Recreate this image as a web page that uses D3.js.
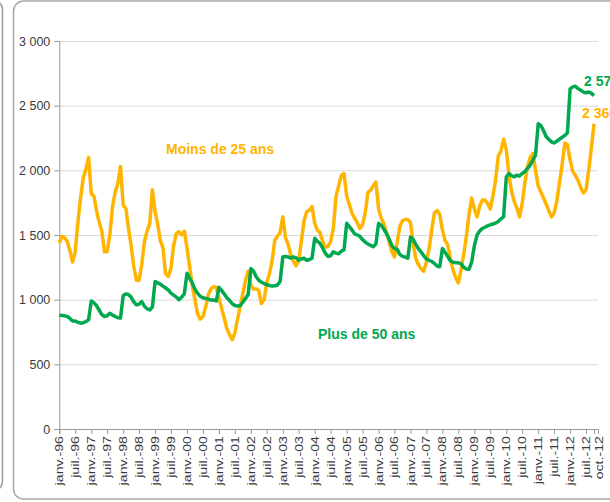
<!DOCTYPE html>
<html>
<head>
<meta charset="utf-8">
<script src="https://cdn.jsdelivr.net/npm/d3@7"></script>
<style>
  html, body { margin: 0; padding: 0; background: #fff; overflow: hidden; }
  svg { display: block; font-family: "Liberation Sans", Arial, sans-serif; }
</style>
</head>
<body>
<div id="chart"></div>
<script>
// monthly values, janv.-96 -> oct.-12
const moins25 = [
  1440,1490,1480,1450,1380,1290,1370,1600,1790,1940,2010,2100,
  1820,1800,1690,1600,1530,1370,1370,1500,1720,1830,1900,2030,
  1730,1705,1560,1420,1260,1150,1150,1270,1450,1530,1590,1850,
  1680,1580,1460,1400,1200,1180,1240,1420,1510,1525,1500,1530,
  1400,1250,1110,1000,890,850,870,940,1040,1085,1100,1095,
  1010,930,860,775,730,690,740,850,950,1050,1150,1220,
  1110,1080,1085,1070,970,1000,1130,1200,1300,1460,1490,1520,
  1640,1480,1430,1350,1300,1260,1300,1450,1610,1680,1690,1720,
  1590,1535,1520,1450,1405,1410,1450,1550,1800,1880,1960,1975,
  1800,1735,1670,1630,1595,1550,1580,1670,1830,1845,1880,1910,
  1700,1630,1590,1520,1450,1370,1330,1440,1565,1610,1620,1620,
  1595,1430,1320,1270,1240,1220,1290,1390,1540,1670,1690,1660,
  1540,1455,1425,1320,1230,1170,1130,1230,1350,1490,1660,1785,
  1700,1640,1720,1770,1770,1745,1700,1800,1930,2110,2150,2240,
  2160,1960,1840,1760,1710,1640,1740,1900,2030,2100,2130,2000,
  1880,1830,1790,1740,1690,1640,1665,1760,1900,2040,2210,2200,
  2080,1990,1960,1920,1870,1825,1850,2000,2180,2360
];

const plus50 = [
  880,878,875,870,855,835,835,825,818,822,830,845,
  990,975,955,920,885,870,875,895,880,870,860,858,
  1030,1045,1040,1020,985,960,965,985,950,930,920,945,
  1140,1130,1120,1105,1090,1075,1050,1035,1020,1000,1020,1045,
  1205,1165,1130,1080,1050,1025,1015,1010,1005,997,997,990,
  1095,1070,1045,1015,995,970,955,950,955,980,1010,1040,
  1240,1220,1180,1150,1135,1125,1115,1110,1105,1108,1113,1140,
  1330,1335,1330,1322,1330,1325,1305,1315,1320,1305,1310,1320,
  1475,1450,1435,1400,1360,1335,1340,1370,1360,1355,1375,1385,
  1590,1565,1540,1510,1500,1490,1465,1445,1430,1420,1410,1430,
  1590,1575,1545,1510,1470,1420,1395,1390,1350,1335,1330,1320,
  1485,1465,1430,1395,1370,1340,1315,1305,1295,1280,1260,1255,
  1395,1365,1335,1300,1290,1285,1285,1278,1250,1238,1236,1290,
  1420,1500,1530,1550,1560,1570,1578,1585,1592,1605,1625,1640,
  1950,1975,1960,1950,1962,1956,1975,1990,2015,2040,2080,2115,
  2360,2345,2310,2262,2240,2220,2212,2225,2240,2255,2270,2290,
  2630,2645,2650,2632,2620,2605,2600,2606,2595,2578
];

const seriesNames = ["Moins de 25 ans", "Plus de 50 ans"];
const yTicks = [0, 500, 1000, 1500, 2000, 2500, 3000];
const xTickLabels = [
  "janv.-96","juil.-96","janv.-97","juil.-97","janv.-98","juil.-98",
  "janv.-99","juil.-99","janv.-00","juil.-00","janv.-01","juil.-01",
  "janv.-02","juil.-02","janv.-03","juil.-03","janv.-04","juil.-04",
  "janv.-05","juil.-05","janv.-06","juil.-06","janv.-07","juil.-07",
  "janv.-08","juil.-08","janv.-09","juil.-09","janv.-10","juil.-10",
  "janv.-11","juil.-11","janv.-12","juil.-12","oct.-12"
];

const orange = "#FFB400";
const green = "#00A84F";

const width = 610, height = 502;
const start = new Date(1996, 0, 1);
const months = moins25.map((d, i) => d3.timeMonth.offset(start, i));
// tick dates: every 6 months, then the last month
const tickDates = xTickLabels.map((d, i) =>
  i < xTickLabels.length - 1 ? d3.timeMonth.offset(start, i * 6) : months[months.length - 1]);

const fr = d3.formatLocale({ decimal: ",", thousands: " ", grouping: [3], currency: ["", " €"] });
const fmt = fr.format(",d");

const svg = d3.select("#chart").append("svg")
  .attr("width", width)
  .attr("height", height);

// frames
svg.append("rect")
  .attr("x", -300).attr("y", 0.5)
  .attr("width", 302.5).attr("height", 490)
  .attr("rx", 9)
  .attr("fill", "none").attr("stroke", "#9a9a9a").attr("stroke-width", 1.5);

svg.append("rect")
  .attr("x", 13.5).attr("y", 1)
  .attr("width", 640).attr("height", 498)
  .attr("rx", 10)
  .attr("fill", "#fff").attr("stroke", "#a8a8a8").attr("stroke-width", 1.5);

const x = d3.scaleTime()
  .domain([start, new Date(2012, 10, 15)])
  .range([59.3, 598]);

const y = d3.scaleLinear()
  .domain([0, 3000])
  .range([429, 41]);

// gridlines
svg.append("g")
  .selectAll("line")
  .data(yTicks.filter(d => d > 0))
  .join("line")
  .attr("x1", x.range()[0]).attr("x2", x.range()[1])
  .attr("y1", d => y(d) + 0.5).attr("y2", d => y(d) + 0.5)
  .attr("stroke", "#d9d9d9").attr("stroke-width", 1);

// y axis
const yAxis = svg.append("g")
  .attr("transform", `translate(${x.range()[0]},0)`)
  .call(d3.axisLeft(y).tickValues(yTicks).tickSize(5).tickPadding(4).tickFormat(fmt));
yAxis.select(".domain").attr("stroke", "#9a9a9a");
yAxis.selectAll(".tick line").attr("stroke", "#9a9a9a");
yAxis.selectAll("text")
  .attr("fill", "#3a3a3a")
  .style("font-size", "12.5px");

// x axis
const xAxis = svg.append("g")
  .attr("transform", `translate(0,${y(0)})`)
  .call(d3.axisBottom(x).tickValues(tickDates).tickSize(5).tickFormat((d, i) => xTickLabels[i]));
xAxis.select(".domain").attr("stroke", "#9a9a9a");
xAxis.selectAll(".tick line").attr("stroke", "#9a9a9a");
xAxis.selectAll("text")
  .attr("fill", "#3a3a3a")
  .style("font-size", "10px")
  .attr("text-anchor", "end")
  .attr("x", 0).attr("y", 0).attr("dy", "0.35em")
  .attr("transform", (d, i) =>
    `translate(${i === xTickLabels.length - 1 ? 5 : 0},7) rotate(-90) scale(1.42,1)`);

// lines
const line = d3.line()
  .x((d, i) => x(months[i]))
  .y(d => y(d));

svg.append("path")
  .datum(moins25)
  .attr("fill", "none")
  .attr("stroke", orange)
  .attr("stroke-width", 3.5)
  .attr("stroke-linejoin", "round")
  .attr("d", line);

svg.append("path")
  .datum(plus50)
  .attr("fill", "none")
  .attr("stroke", green)
  .attr("stroke-width", 3.5)
  .attr("stroke-linejoin", "round")
  .attr("d", line);

// series names
svg.append("text")
  .attr("x", 166).attr("y", 154)
  .attr("fill", orange)
  .style("font-size", "14px").style("font-weight", "bold")
  .text(seriesNames[0]);

svg.append("text")
  .attr("x", 318).attr("y", 339)
  .attr("fill", green)
  .style("font-size", "14px").style("font-weight", "bold")
  .text(seriesNames[1]);

// last values (cut by the right edge, as in the original)
const last = months.length - 1;
svg.append("text")
  .attr("x", x(months[last]) - 10).attr("y", y(plus50[last]) - 10)
  .attr("fill", green)
  .style("font-size", "14px").style("font-weight", "bold")
  .text(fmt(plus50[last]));

svg.append("text")
  .attr("x", x(months[last]) - 12).attr("y", y(moins25[last]) - 6)
  .attr("fill", orange)
  .style("font-size", "14px").style("font-weight", "bold")
  .text(fmt(moins25[last]));
</script>
</body>
</html>
